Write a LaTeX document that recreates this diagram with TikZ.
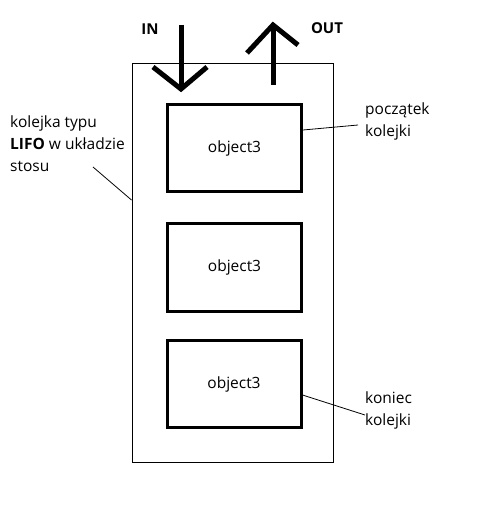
\documentclass[tikz,border=0pt]{standalone}
\usepackage{fontspec}
\setmainfont{Open Sans}
\begin{document}
\begin{tikzpicture}[x=1pt,y=-1pt,
    font=\fontsize{15.5}{22}\selectfont,
    obj/.style={draw,line width=3pt,minimum width=134pt,minimum height=87pt,inner sep=0pt},
    note/.style={align=left,inner sep=0pt,anchor=north west},
    hand/.style={line width=5pt}]
  \useasboundingbox (0,0) rectangle (481,526);
  % stos
  \node[draw,line width=1pt,minimum width=201pt,minimum height=399pt,inner sep=0pt] (stack) at (232.5,263) {};
  \draw
    (234.5,148) node[obj] (obj1){object3}
    (234.5,267.5) node[obj] (obj2){object3}
    (234,384) node[obj] (obj3){object3};
  % wejscie i wyjscie
  \node[font=\fontsize{15}{16}\bfseries] (in) at (150,29) {IN};
  \node[font=\fontsize{15}{16}\bfseries] (out) at (327,28) {OUT};
  \coordinate (in top) at (181,25);
  \coordinate (in tip) at (181,89);
  \coordinate (out top) at (273,25);
  \coordinate (out foot) at (273,85);
  \draw[hand] (in top) -- (in tip);
  \draw[hand] (153,67) -- (in tip) -- (207,67);
  \draw[hand] (out foot) -- (out top);
  \draw[hand] (247,53) -- (out top) -- (298,45);
  % opisy
  \node[note] (lifo) at (10,116) {kolejka typu\\\textbf{LIFO} w układzie\\stosu};
  \node[note] (head) at (365,103) {początek\\kolejki};
  \node[note] (tail) at (365,392) {koniec\\kolejki};
  \coordinate (lifo end) at (93,167);
  \coordinate (head end) at (358,125);
  \coordinate (tail end) at (365,415);
  \begin{scope}[line width=0.8pt]
    \draw (lifo end) -- (stack.west |- 0,200);
    \draw (head end) -- (obj1.east |- 0,130);
    \draw (tail end) -- (obj3.east |- 0,395);
  \end{scope}
\end{tikzpicture}
\end{document}
